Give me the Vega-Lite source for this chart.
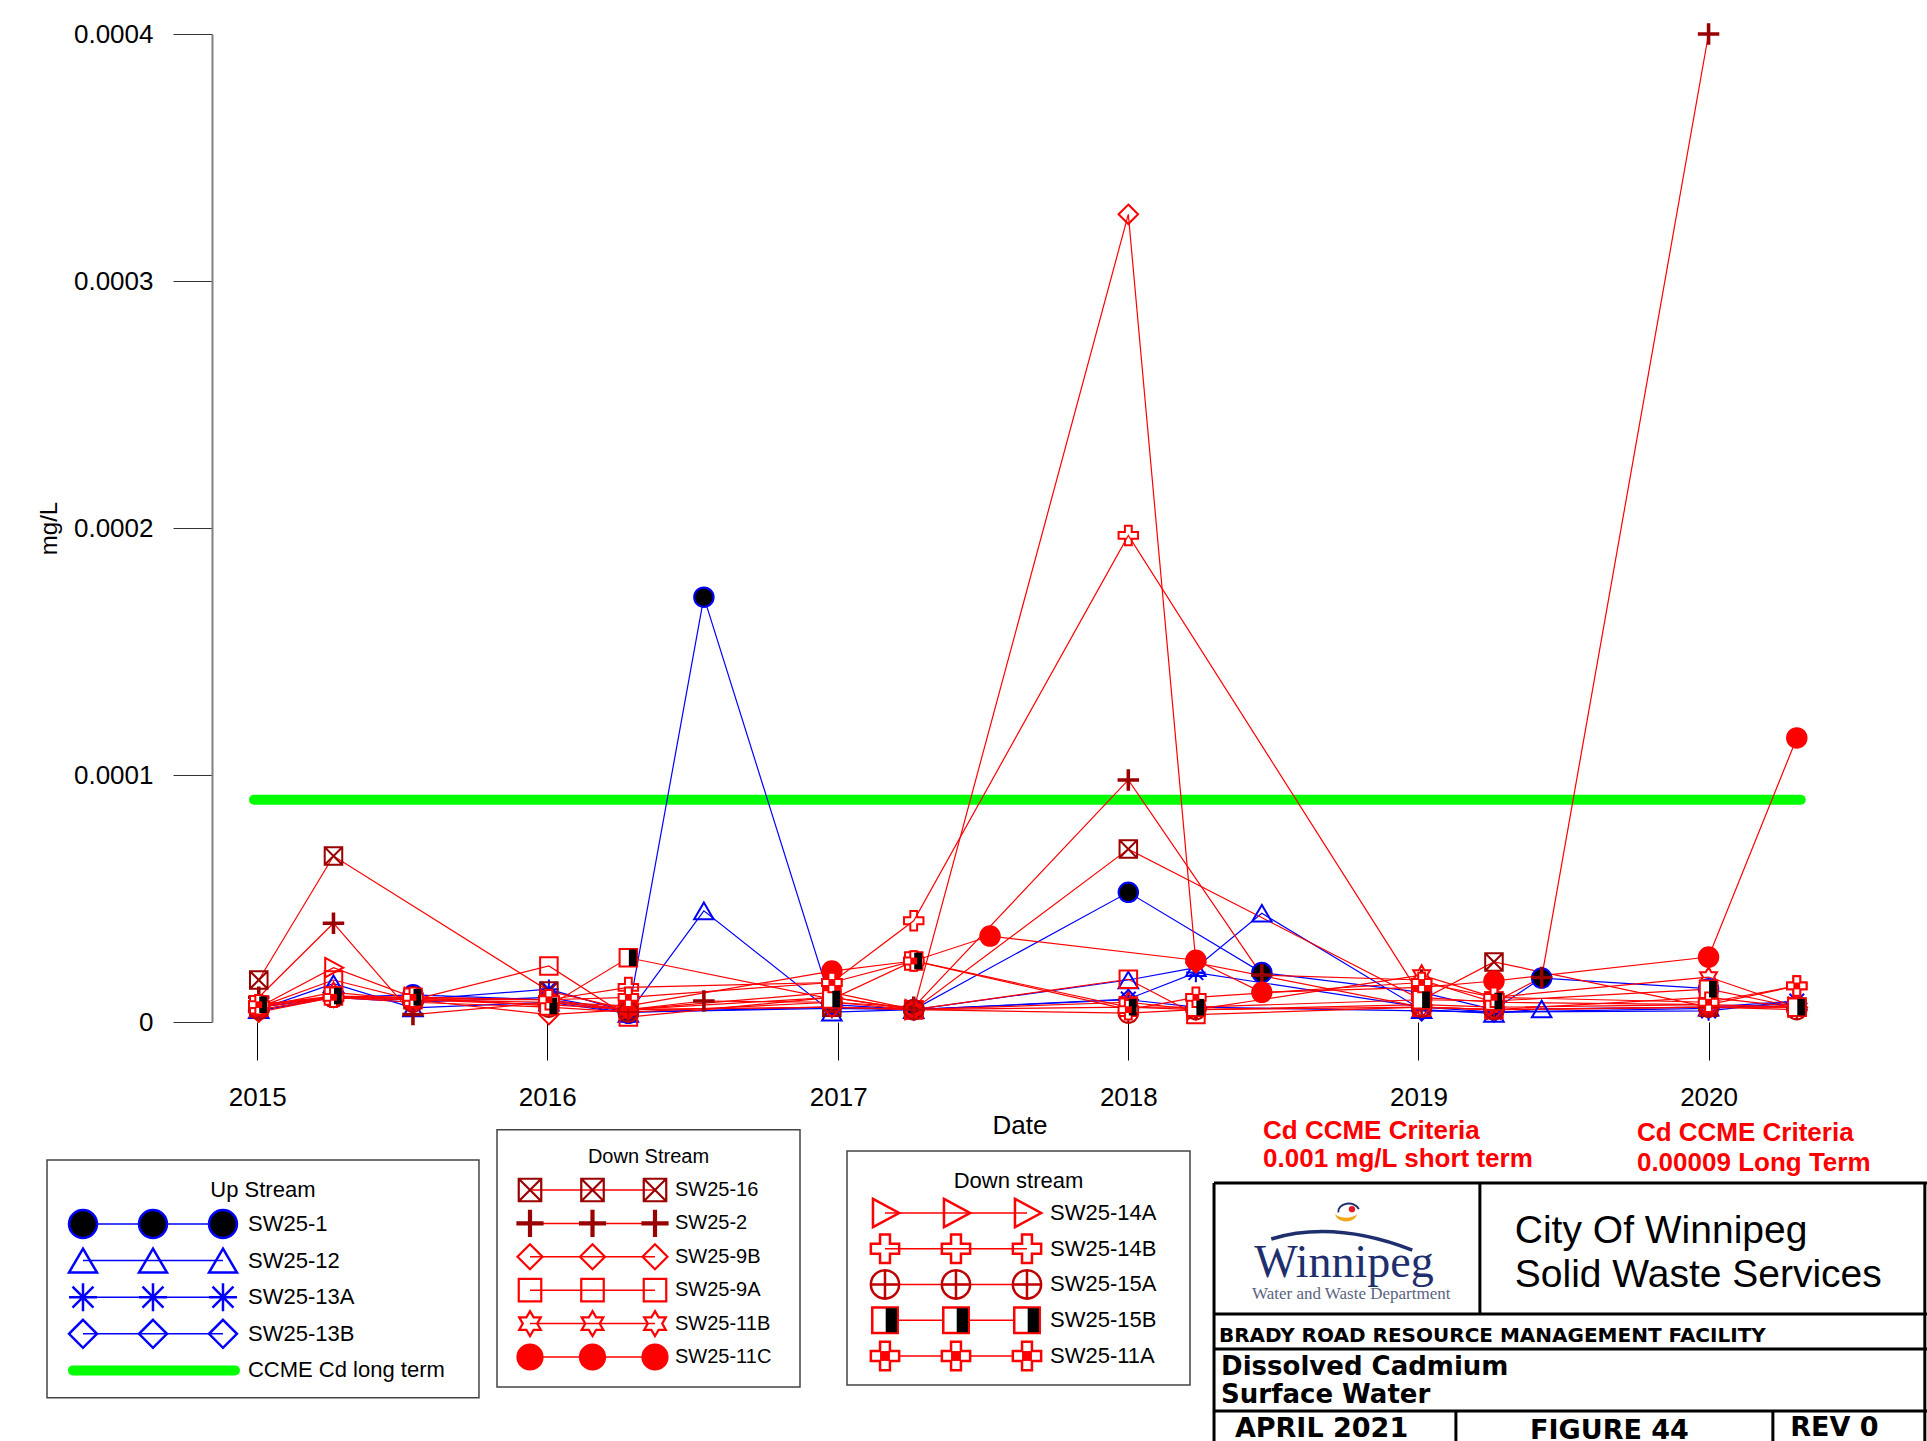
{
"$schema":"https://vega.github.io/schema/vega-lite/v6.json",
"background":"white",
"padding":{"left":37,"top":20,"right":0,"bottom":0},
"config":{"font":"Liberation Sans","view":{"stroke":null},"text":{"font":"Liberation Sans"},"axis":{"labelFont":"Liberation Sans","titleFont":"Liberation Sans"}},
"datasets":{
"ccme":[{"date":"2014-12-28","value":0.00009},{"date":"2020-04-26","value":0.00009}],
"legendUp":[{"site":"SW25-1","order":1},{"site":"SW25-12","order":2},{"site":"SW25-13A","order":3},{"site":"SW25-13B","order":4}],
"legendDownA":[{"site":"SW25-16","order":1},{"site":"SW25-2","order":2},{"site":"SW25-9B","order":3},{"site":"SW25-9A","order":4},{"site":"SW25-11B","order":5},{"site":"SW25-11C","order":6}],
"legendDownB":[{"site":"SW25-14A","order":1},{"site":"SW25-14B","order":2},{"site":"SW25-15A","order":3},{"site":"SW25-15B","order":4},{"site":"SW25-11A","order":5}],
"cadmium":[
{"site":"SW25-1","date":"2015-01-03","value":0.000006},{"site":"SW25-1","date":"2015-04-07","value":0.00001},{"site":"SW25-1","date":"2015-07-16","value":0.000011},{"site":"SW25-1","date":"2016-01-03","value":0.000009},{"site":"SW25-1","date":"2016-04-12","value":0.0000035},{"site":"SW25-1","date":"2016-07-16","value":0.000172},{"site":"SW25-1","date":"2016-12-24","value":0.000007},{"site":"SW25-1","date":"2017-04-06","value":0.000005},{"site":"SW25-1","date":"2018-01-01","value":0.0000525},{"site":"SW25-1","date":"2018-06-18","value":0.00002},{"site":"SW25-1","date":"2019-01-05","value":0.000012},{"site":"SW25-1","date":"2019-04-06","value":0.000005},{"site":"SW25-1","date":"2019-06-05","value":0.0000178},{"site":"SW25-1","date":"2020-01-01","value":0.0000135},
{"site":"SW25-12","date":"2015-01-03","value":0.000005},{"site":"SW25-12","date":"2015-04-07","value":0.0000155},{"site":"SW25-12","date":"2015-07-16","value":0.0000057},{"site":"SW25-12","date":"2016-01-03","value":0.000008},{"site":"SW25-12","date":"2016-04-12","value":0.0000035},{"site":"SW25-12","date":"2016-07-16","value":0.000045},{"site":"SW25-12","date":"2016-12-24","value":0.000004},{"site":"SW25-12","date":"2017-04-06","value":0.000005},{"site":"SW25-12","date":"2018-01-01","value":0.000017},{"site":"SW25-12","date":"2018-03-27","value":0.000022},{"site":"SW25-12","date":"2018-06-18","value":0.000044},{"site":"SW25-12","date":"2019-01-05","value":0.000005},{"site":"SW25-12","date":"2019-04-06","value":0.0000035},{"site":"SW25-12","date":"2019-06-05","value":0.0000053},{"site":"SW25-12","date":"2020-01-01","value":0.000006},{"site":"SW25-12","date":"2020-04-21","value":0.0000085},
{"site":"SW25-13A","date":"2015-01-03","value":0.000006},{"site":"SW25-13A","date":"2015-04-07","value":0.00001},{"site":"SW25-13A","date":"2015-07-16","value":0.000009},{"site":"SW25-13A","date":"2016-01-03","value":0.0000133},{"site":"SW25-13A","date":"2016-04-12","value":0.000004},{"site":"SW25-13A","date":"2016-12-24","value":0.0000055},{"site":"SW25-13A","date":"2017-04-06","value":0.000005},{"site":"SW25-13A","date":"2018-01-01","value":0.0000093},{"site":"SW25-13A","date":"2018-03-27","value":0.00002},{"site":"SW25-13A","date":"2019-01-05","value":0.000006},{"site":"SW25-13A","date":"2019-04-06","value":0.000004},{"site":"SW25-13A","date":"2020-01-01","value":0.0000045},{"site":"SW25-13A","date":"2020-04-21","value":0.0000085},
{"site":"SW25-13B","date":"2015-01-03","value":0.0000045},{"site":"SW25-13B","date":"2015-04-07","value":0.00001},{"site":"SW25-13B","date":"2015-07-16","value":0.000008},{"site":"SW25-13B","date":"2016-01-03","value":0.00001},{"site":"SW25-13B","date":"2016-04-12","value":0.000004},{"site":"SW25-13B","date":"2016-12-24","value":0.000006},{"site":"SW25-13B","date":"2017-04-06","value":0.000005},{"site":"SW25-13B","date":"2018-01-01","value":0.000009},{"site":"SW25-13B","date":"2018-03-27","value":0.000006},{"site":"SW25-13B","date":"2019-01-05","value":0.0000045},{"site":"SW25-13B","date":"2019-04-06","value":0.000004},{"site":"SW25-13B","date":"2020-01-01","value":0.0000055},{"site":"SW25-13B","date":"2020-04-21","value":0.0000075},
{"site":"SW25-16","date":"2015-01-03","value":0.000017},{"site":"SW25-16","date":"2015-04-07","value":0.0000672},{"site":"SW25-16","date":"2016-01-03","value":0.0000125},{"site":"SW25-16","date":"2016-04-12","value":0.000005},{"site":"SW25-16","date":"2016-12-24","value":0.000006},{"site":"SW25-16","date":"2017-04-06","value":0.000005},{"site":"SW25-16","date":"2018-01-01","value":0.00007},{"site":"SW25-16","date":"2019-01-05","value":0.000009},{"site":"SW25-16","date":"2019-04-06","value":0.0000243},{"site":"SW25-16","date":"2020-01-01","value":0.000006},{"site":"SW25-16","date":"2020-04-21","value":0.000006},
{"site":"SW25-2","date":"2015-01-03","value":0.00001},{"site":"SW25-2","date":"2015-04-07","value":0.00004},{"site":"SW25-2","date":"2015-07-16","value":0.000003},{"site":"SW25-2","date":"2016-01-03","value":0.000008},{"site":"SW25-2","date":"2016-04-12","value":0.000005},{"site":"SW25-2","date":"2016-07-16","value":0.0000085},{"site":"SW25-2","date":"2016-12-24","value":0.000008},{"site":"SW25-2","date":"2017-04-06","value":0.000006},{"site":"SW25-2","date":"2018-01-01","value":0.000098},{"site":"SW25-2","date":"2018-06-18","value":0.000019},{"site":"SW25-2","date":"2019-01-05","value":0.000017},{"site":"SW25-2","date":"2019-04-06","value":0.000008},{"site":"SW25-2","date":"2019-06-05","value":0.000018},{"site":"SW25-2","date":"2020-01-01","value":0.0004},
{"site":"SW25-9B","date":"2015-01-03","value":0.000004},{"site":"SW25-9B","date":"2015-04-07","value":0.00001},{"site":"SW25-9B","date":"2015-07-16","value":0.000009},{"site":"SW25-9B","date":"2016-01-03","value":0.000003},{"site":"SW25-9B","date":"2016-04-12","value":0.000005},{"site":"SW25-9B","date":"2016-12-24","value":0.000006},{"site":"SW25-9B","date":"2017-04-06","value":0.000005},{"site":"SW25-9B","date":"2018-01-01","value":0.000327},{"site":"SW25-9B","date":"2018-03-27","value":0.000024},{"site":"SW25-9B","date":"2019-01-05","value":0.000006},{"site":"SW25-9B","date":"2019-04-06","value":0.000005},{"site":"SW25-9B","date":"2020-01-01","value":0.000006},{"site":"SW25-9B","date":"2020-04-21","value":0.000006},
{"site":"SW25-9A","date":"2015-01-03","value":0.000006},{"site":"SW25-9A","date":"2015-04-07","value":0.000017},{"site":"SW25-9A","date":"2015-07-16","value":0.000009},{"site":"SW25-9A","date":"2016-01-03","value":0.0000227},{"site":"SW25-9A","date":"2016-04-12","value":0.000002},{"site":"SW25-9A","date":"2016-12-24","value":0.00001},{"site":"SW25-9A","date":"2017-04-06","value":0.000005},{"site":"SW25-9A","date":"2018-01-01","value":0.0000173},{"site":"SW25-9A","date":"2018-03-27","value":0.000003},{"site":"SW25-9A","date":"2019-01-05","value":0.000006},{"site":"SW25-9A","date":"2019-04-06","value":0.000005},{"site":"SW25-9A","date":"2020-01-01","value":0.00001},{"site":"SW25-9A","date":"2020-04-21","value":0.000006},
{"site":"SW25-11B","date":"2015-01-03","value":0.000006},{"site":"SW25-11B","date":"2015-04-07","value":0.000012},{"site":"SW25-11B","date":"2015-07-16","value":0.000009},{"site":"SW25-11B","date":"2016-01-03","value":0.000007},{"site":"SW25-11B","date":"2016-04-12","value":0.000005},{"site":"SW25-11B","date":"2016-12-24","value":0.000012},{"site":"SW25-11B","date":"2017-04-06","value":0.000005},{"site":"SW25-11B","date":"2018-01-01","value":0.000008},{"site":"SW25-11B","date":"2018-03-27","value":0.000005},{"site":"SW25-11B","date":"2019-01-05","value":0.000019},{"site":"SW25-11B","date":"2019-04-06","value":0.00001},{"site":"SW25-11B","date":"2020-01-01","value":0.0000182},{"site":"SW25-11B","date":"2020-04-21","value":0.000006},
{"site":"SW25-11C","date":"2015-01-03","value":0.000006},{"site":"SW25-11C","date":"2015-04-07","value":0.00001},{"site":"SW25-11C","date":"2015-07-16","value":0.000009},{"site":"SW25-11C","date":"2016-01-03","value":0.000008},{"site":"SW25-11C","date":"2016-04-12","value":0.0000065},{"site":"SW25-11C","date":"2016-12-24","value":0.0000206},{"site":"SW25-11C","date":"2017-04-06","value":0.0000247},{"site":"SW25-11C","date":"2017-07-11","value":0.0000348},{"site":"SW25-11C","date":"2018-03-27","value":0.000025},{"site":"SW25-11C","date":"2018-06-18","value":0.000012},{"site":"SW25-11C","date":"2019-01-05","value":0.000014},{"site":"SW25-11C","date":"2019-04-06","value":0.0000166},{"site":"SW25-11C","date":"2020-01-01","value":0.0000263},{"site":"SW25-11C","date":"2020-04-21","value":0.000115},
{"site":"SW25-14A","date":"2015-01-03","value":0.000006},{"site":"SW25-14A","date":"2015-04-07","value":0.000022},{"site":"SW25-14A","date":"2015-07-16","value":0.00001},{"site":"SW25-14A","date":"2016-01-03","value":0.000009},{"site":"SW25-14A","date":"2016-04-12","value":0.000005},{"site":"SW25-14A","date":"2016-12-24","value":0.00001},{"site":"SW25-14A","date":"2017-04-06","value":0.000005},{"site":"SW25-14A","date":"2018-01-01","value":0.000006},{"site":"SW25-14A","date":"2018-03-27","value":0.000005},{"site":"SW25-14A","date":"2019-01-05","value":0.000007},{"site":"SW25-14A","date":"2019-04-06","value":0.000006},{"site":"SW25-14A","date":"2020-01-01","value":0.000007},{"site":"SW25-14A","date":"2020-04-21","value":0.000006},
{"site":"SW25-14B","date":"2015-01-03","value":0.000007},{"site":"SW25-14B","date":"2015-04-07","value":0.00001},{"site":"SW25-14B","date":"2015-07-16","value":0.000009},{"site":"SW25-14B","date":"2016-01-03","value":0.000009},{"site":"SW25-14B","date":"2016-04-12","value":0.000014},{"site":"SW25-14B","date":"2016-12-24","value":0.000016},{"site":"SW25-14B","date":"2017-04-06","value":0.000041},{"site":"SW25-14B","date":"2018-01-01","value":0.000197},{"site":"SW25-14B","date":"2019-01-05","value":0.00001},{"site":"SW25-14B","date":"2019-04-06","value":0.000008},{"site":"SW25-14B","date":"2020-01-01","value":0.000007},{"site":"SW25-14B","date":"2020-04-21","value":0.0000146},
{"site":"SW25-15A","date":"2015-01-03","value":0.000005},{"site":"SW25-15A","date":"2015-04-07","value":0.00001},{"site":"SW25-15A","date":"2015-07-16","value":0.000008},{"site":"SW25-15A","date":"2016-01-03","value":0.000006},{"site":"SW25-15A","date":"2016-04-12","value":0.000004},{"site":"SW25-15A","date":"2016-12-24","value":0.000008},{"site":"SW25-15A","date":"2017-04-06","value":0.000005},{"site":"SW25-15A","date":"2018-01-01","value":0.0000036},{"site":"SW25-15A","date":"2018-03-27","value":0.000005},{"site":"SW25-15A","date":"2019-01-05","value":0.000006},{"site":"SW25-15A","date":"2019-04-06","value":0.000005},{"site":"SW25-15A","date":"2020-01-01","value":0.000006},{"site":"SW25-15A","date":"2020-04-21","value":0.000005},
{"site":"SW25-15B","date":"2015-01-03","value":0.000007},{"site":"SW25-15B","date":"2015-04-07","value":0.0000105},{"site":"SW25-15B","date":"2015-07-16","value":0.00001},{"site":"SW25-15B","date":"2016-01-03","value":0.0000065},{"site":"SW25-15B","date":"2016-04-12","value":0.000026},{"site":"SW25-15B","date":"2016-12-24","value":0.0000093},{"site":"SW25-15B","date":"2017-04-06","value":0.0000247},{"site":"SW25-15B","date":"2018-01-01","value":0.000006},{"site":"SW25-15B","date":"2018-03-27","value":0.000006},{"site":"SW25-15B","date":"2019-01-05","value":0.000009},{"site":"SW25-15B","date":"2019-04-06","value":0.0000085},{"site":"SW25-15B","date":"2020-01-01","value":0.0000133},{"site":"SW25-15B","date":"2020-04-21","value":0.000006},
{"site":"SW25-11A","date":"2015-01-03","value":0.000007},{"site":"SW25-11A","date":"2015-04-07","value":0.00001},{"site":"SW25-11A","date":"2015-07-16","value":0.00001},{"site":"SW25-11A","date":"2016-01-03","value":0.000009},{"site":"SW25-11A","date":"2016-04-12","value":0.00001},{"site":"SW25-11A","date":"2016-12-24","value":0.000016},{"site":"SW25-11A","date":"2017-04-06","value":0.0000247},{"site":"SW25-11A","date":"2018-01-01","value":0.000005},{"site":"SW25-11A","date":"2018-03-27","value":0.00001},{"site":"SW25-11A","date":"2019-01-05","value":0.000016},{"site":"SW25-11A","date":"2019-04-06","value":0.00001},{"site":"SW25-11A","date":"2020-01-01","value":0.000008},{"site":"SW25-11A","date":"2020-04-21","value":0.0000146}
]},
"columns":1,
"align":"none",
"spacing":0,
"concat":[
{
"width":1790,"height":988,
"encoding":{
"x":{"field":"date","type":"temporal","title":null,"scale":{"type":"utc","domain":[{"year":2014,"month":3,"date":30,"utc":true},{"year":2020,"month":5,"date":29,"utc":true}],"nice":false},
"axis":{"values":[{"year":2015,"month":1,"date":1,"utc":true},{"year":2016,"month":1,"date":1,"utc":true},{"year":2017,"month":1,"date":1,"utc":true},{"year":2018,"month":1,"date":1,"utc":true},{"year":2019,"month":1,"date":1,"utc":true},{"year":2020,"month":1,"date":1,"utc":true}],"labelExpr":"utcFormat(datum.value,'%Y')","grid":false,"domain":false,"tickColor":"#000000","tickWidth":1,"tickSize":38,"labelPadding":24,"labelFontSize":26,"labelColor":"#000000","labelFlush":false,"labelOverlap":false}},
"y":{"field":"value","type":"quantitative","title":"mg/L","scale":{"domain":[0,0.0004],"nice":false,"zero":false},
"axis":{"offset":-175,"values":[0,0.0001,0.0002,0.0003,0.0004],"format":"~g","grid":false,"domainColor":"#808080","domainWidth":2,"tickColor":"#333333","tickWidth":1,"tickSize":39,"labelPadding":20,"labelFontSize":26,"labelColor":"#000000","titleFontSize":24,"titleFontWeight":"normal","titleColor":"#000000","titlePadding":12,"labelFlush":false}}
},
"layer":[
{"data":{"values":[{}]},"mark":{"type":"rule","color":"#808080","strokeWidth":2},"encoding":{"x":{"datum":{"year":2014,"month":11,"date":5,"utc":true},"type":"temporal"},"x2":{"datum":{"year":2020,"month":5,"date":29,"utc":true}},"y":{"datum":0,"type":"quantitative"}}},
{"data":{"name":"ccme"},"mark":{"type":"line","color":"#00ff00","strokeWidth":10,"strokeCap":"round"}},
{"data":{"name":"cadmium"},"mark":{"type":"line","strokeWidth":1.2},"encoding":{"color":{"field":"site","type":"nominal","legend":null,"scale":{"domain":["SW25-1","SW25-12","SW25-13A","SW25-13B","SW25-16","SW25-2","SW25-9B","SW25-9A","SW25-11B","SW25-11C","SW25-14A","SW25-14B","SW25-15A","SW25-15B","SW25-11A"],"range":["#0000ff","#0000ff","#0000ff","#0000ff","#ff0000","#ff0000","#ff0000","#ff0000","#ff0000","#ff0000","#ff0000","#ff0000","#ff0000","#ff0000","#ff0000"]}}}},
{"data":{"name":"cadmium"},"mark":{"type":"point","size":380,"strokeWidth":2,"opacity":1},"encoding":{
"shape":{"field":"site","type":"nominal","legend":null,"scale":{"domain":["SW25-1","SW25-12","SW25-13A","SW25-13B","SW25-16","SW25-2","SW25-9B","SW25-9A","SW25-11B","SW25-11C","SW25-14A","SW25-14B","SW25-15A","SW25-15B","SW25-11A"],"range":["circle","M0,-0.85L1,0.85L-1,0.85Z","M-1,0H1M0,-1V1M-0.75,-0.75L0.75,0.75M-0.75,0.75L0.75,-0.75","M0,-1L1,0L0,1L-1,0Z","M-0.9,-0.9H0.9V0.9H-0.9ZM-0.9,-0.9L0.9,0.9M-0.9,0.9L0.9,-0.9","M-1,-0.08H-0.08V-1H0.08V-0.08H1V0.08H0.08V1H-0.08V0.08H-1Z","M0,-1L1,0L0,1L-1,0Z","M-0.9,-0.9H0.9V0.9H-0.9Z","M0,-1L0.289,-0.5L0.866,-0.5L0.577,0L0.866,0.5L0.289,0.5L0,1L-0.289,0.5L-0.866,0.5L-0.577,0L-0.866,-0.5L-0.289,-0.5Z","circle","M-0.85,-1L1,0L-0.85,1Z","M-0.35,-1H0.35V-0.35H1V0.35H0.35V1H-0.35V0.35H-1V-0.35H-0.35Z","M-1,0A1,1,0,1,1,1,0A1,1,0,1,1,-1,0ZM-1,0H1M0,-1V1","M-0.9,-0.9H0.9V0.9H-0.9Z","M-0.35,-1H0.35V-0.35H1V0.35H0.35V1H-0.35V0.35H-1V-0.35H-0.35Z"]}},
"stroke":{"field":"site","type":"nominal","legend":null,"scale":{"domain":["SW25-1","SW25-12","SW25-13A","SW25-13B","SW25-16","SW25-2","SW25-9B","SW25-9A","SW25-11B","SW25-11C","SW25-14A","SW25-14B","SW25-15A","SW25-15B","SW25-11A"],"range":["#0000ff","#0000ff","#0000ff","#0000ff","#990000","#990000","#ff0000","#ff0000","#ff0000","#ff0000","#ff0000","#ff0000","#c00000","#ff0000","#ff0000"]}},
"fill":{"field":"site","type":"nominal","legend":null,"scale":{"domain":["SW25-1","SW25-12","SW25-13A","SW25-13B","SW25-16","SW25-2","SW25-9B","SW25-9A","SW25-11B","SW25-11C","SW25-14A","SW25-14B","SW25-15A","SW25-15B","SW25-11A"],"range":["#000000","transparent","transparent","transparent","transparent","#990000","transparent","transparent","transparent","#ff0000","transparent","transparent","transparent","#ffffff","#ffffff"]}}}},
{"data":{"name":"cadmium"},"transform":[{"filter":"datum.site === 'SW25-15B'"}],"mark":{"type":"point","shape":"M0.05,-0.85H0.85V0.85H0.05Z","size":380,"filled":true,"color":"#000000","opacity":1}},
{"data":{"name":"cadmium"},"transform":[{"filter":"datum.site === 'SW25-11A'"}],"mark":{"type":"point","shape":"M-0.35,-0.35H0.35V0.35H-0.35Z","size":380,"filled":true,"color":"#ff0000","opacity":1}}
]
},
{"spacing":0,"hconcat":[
{
"width":451,"height":332,
"layer":[
{"data":{"values":[{}]},"mark":{"type":"rect","fill":"#ffffff","stroke":"#444444","strokeWidth":1.5},"encoding":{"x":{"datum":0.486,"type":"quantitative","scale":{"domain":[0.343,6.786],"nice":false,"zero":false},"axis":null},"x2":{"datum":6.657},"y":{"datum":-0.75,"type":"quantitative","scale":{"domain":[-2.115,6.956],"nice":false,"zero":false,"reverse":true},"axis":null},"y2":{"datum":5.75}}},
{"data":{"values":[{}]},"mark":{"type":"text","fontSize":22,"align":"center","baseline":"middle","color":"#000000"},"encoding":{"x":{"datum":3.57,"type":"quantitative","scale":{"domain":[0.343,6.786],"nice":false,"zero":false},"axis":null},"y":{"datum":0.08,"type":"quantitative","scale":{"domain":[-2.115,6.956],"nice":false,"zero":false,"reverse":true},"axis":null},"text":{"value":"Up Stream"}}},
{"data":{"name":"legendUp"},"mark":{"type":"rule","strokeWidth":1.5},"encoding":{"x":{"datum":1,"type":"quantitative","scale":{"domain":[0.343,6.786],"nice":false,"zero":false},"axis":null},"x2":{"datum":3},"y":{"field":"order","type":"quantitative","scale":{"domain":[-2.115,6.956],"nice":false,"zero":false,"reverse":true},"axis":null},"color":{"field":"site","type":"nominal","legend":null,"scale":{"domain":["SW25-1","SW25-12","SW25-13A","SW25-13B","SW25-16","SW25-2","SW25-9B","SW25-9A","SW25-11B","SW25-11C","SW25-14A","SW25-14B","SW25-15A","SW25-15B","SW25-11A"],"range":["#0000ff","#0000ff","#0000ff","#0000ff","#ff0000","#ff0000","#ff0000","#ff0000","#ff0000","#ff0000","#ff0000","#ff0000","#ff0000","#ff0000","#ff0000"]}}}},
{"data":{"name":"legendUp"},"mark":{"type":"point","size":780,"strokeWidth":2.5,"opacity":1},"encoding":{"x":{"datum":1,"type":"quantitative","scale":{"domain":[0.343,6.786],"nice":false,"zero":false},"axis":null},"y":{"field":"order","type":"quantitative","scale":{"domain":[-2.115,6.956],"nice":false,"zero":false,"reverse":true},"axis":null},
"shape":{"field":"site","type":"nominal","legend":null,"scale":{"domain":["SW25-1","SW25-12","SW25-13A","SW25-13B","SW25-16","SW25-2","SW25-9B","SW25-9A","SW25-11B","SW25-11C","SW25-14A","SW25-14B","SW25-15A","SW25-15B","SW25-11A"],"range":["circle","M0,-0.85L1,0.85L-1,0.85Z","M-1,0H1M0,-1V1M-0.75,-0.75L0.75,0.75M-0.75,0.75L0.75,-0.75","M0,-1L1,0L0,1L-1,0Z","M-0.9,-0.9H0.9V0.9H-0.9ZM-0.9,-0.9L0.9,0.9M-0.9,0.9L0.9,-0.9","M-1,-0.08H-0.08V-1H0.08V-0.08H1V0.08H0.08V1H-0.08V0.08H-1Z","M0,-1L1,0L0,1L-1,0Z","M-0.9,-0.9H0.9V0.9H-0.9Z","M0,-1L0.289,-0.5L0.866,-0.5L0.577,0L0.866,0.5L0.289,0.5L0,1L-0.289,0.5L-0.866,0.5L-0.577,0L-0.866,-0.5L-0.289,-0.5Z","circle","M-0.85,-1L1,0L-0.85,1Z","M-0.35,-1H0.35V-0.35H1V0.35H0.35V1H-0.35V0.35H-1V-0.35H-0.35Z","M-1,0A1,1,0,1,1,1,0A1,1,0,1,1,-1,0ZM-1,0H1M0,-1V1","M-0.9,-0.9H0.9V0.9H-0.9Z","M-0.35,-1H0.35V-0.35H1V0.35H0.35V1H-0.35V0.35H-1V-0.35H-0.35Z"]}},
"stroke":{"field":"site","type":"nominal","legend":null,"scale":{"domain":["SW25-1","SW25-12","SW25-13A","SW25-13B","SW25-16","SW25-2","SW25-9B","SW25-9A","SW25-11B","SW25-11C","SW25-14A","SW25-14B","SW25-15A","SW25-15B","SW25-11A"],"range":["#0000ff","#0000ff","#0000ff","#0000ff","#990000","#990000","#ff0000","#ff0000","#ff0000","#ff0000","#ff0000","#ff0000","#c00000","#ff0000","#ff0000"]}},
"fill":{"field":"site","type":"nominal","legend":null,"scale":{"domain":["SW25-1","SW25-12","SW25-13A","SW25-13B","SW25-16","SW25-2","SW25-9B","SW25-9A","SW25-11B","SW25-11C","SW25-14A","SW25-14B","SW25-15A","SW25-15B","SW25-11A"],"range":["#000000","transparent","transparent","transparent","transparent","#990000","transparent","transparent","transparent","#ff0000","transparent","transparent","transparent","#ffffff","#ffffff"]}}}},
{"data":{"name":"legendUp"},"mark":{"type":"point","size":780,"strokeWidth":2.5,"opacity":1},"encoding":{"x":{"datum":2,"type":"quantitative","scale":{"domain":[0.343,6.786],"nice":false,"zero":false},"axis":null},"y":{"field":"order","type":"quantitative","scale":{"domain":[-2.115,6.956],"nice":false,"zero":false,"reverse":true},"axis":null},
"shape":{"field":"site","type":"nominal","legend":null,"scale":{"domain":["SW25-1","SW25-12","SW25-13A","SW25-13B","SW25-16","SW25-2","SW25-9B","SW25-9A","SW25-11B","SW25-11C","SW25-14A","SW25-14B","SW25-15A","SW25-15B","SW25-11A"],"range":["circle","M0,-0.85L1,0.85L-1,0.85Z","M-1,0H1M0,-1V1M-0.75,-0.75L0.75,0.75M-0.75,0.75L0.75,-0.75","M0,-1L1,0L0,1L-1,0Z","M-0.9,-0.9H0.9V0.9H-0.9ZM-0.9,-0.9L0.9,0.9M-0.9,0.9L0.9,-0.9","M-1,-0.08H-0.08V-1H0.08V-0.08H1V0.08H0.08V1H-0.08V0.08H-1Z","M0,-1L1,0L0,1L-1,0Z","M-0.9,-0.9H0.9V0.9H-0.9Z","M0,-1L0.289,-0.5L0.866,-0.5L0.577,0L0.866,0.5L0.289,0.5L0,1L-0.289,0.5L-0.866,0.5L-0.577,0L-0.866,-0.5L-0.289,-0.5Z","circle","M-0.85,-1L1,0L-0.85,1Z","M-0.35,-1H0.35V-0.35H1V0.35H0.35V1H-0.35V0.35H-1V-0.35H-0.35Z","M-1,0A1,1,0,1,1,1,0A1,1,0,1,1,-1,0ZM-1,0H1M0,-1V1","M-0.9,-0.9H0.9V0.9H-0.9Z","M-0.35,-1H0.35V-0.35H1V0.35H0.35V1H-0.35V0.35H-1V-0.35H-0.35Z"]}},
"stroke":{"field":"site","type":"nominal","legend":null,"scale":{"domain":["SW25-1","SW25-12","SW25-13A","SW25-13B","SW25-16","SW25-2","SW25-9B","SW25-9A","SW25-11B","SW25-11C","SW25-14A","SW25-14B","SW25-15A","SW25-15B","SW25-11A"],"range":["#0000ff","#0000ff","#0000ff","#0000ff","#990000","#990000","#ff0000","#ff0000","#ff0000","#ff0000","#ff0000","#ff0000","#c00000","#ff0000","#ff0000"]}},
"fill":{"field":"site","type":"nominal","legend":null,"scale":{"domain":["SW25-1","SW25-12","SW25-13A","SW25-13B","SW25-16","SW25-2","SW25-9B","SW25-9A","SW25-11B","SW25-11C","SW25-14A","SW25-14B","SW25-15A","SW25-15B","SW25-11A"],"range":["#000000","transparent","transparent","transparent","transparent","#990000","transparent","transparent","transparent","#ff0000","transparent","transparent","transparent","#ffffff","#ffffff"]}}}},
{"data":{"name":"legendUp"},"mark":{"type":"point","size":780,"strokeWidth":2.5,"opacity":1},"encoding":{"x":{"datum":3,"type":"quantitative","scale":{"domain":[0.343,6.786],"nice":false,"zero":false},"axis":null},"y":{"field":"order","type":"quantitative","scale":{"domain":[-2.115,6.956],"nice":false,"zero":false,"reverse":true},"axis":null},
"shape":{"field":"site","type":"nominal","legend":null,"scale":{"domain":["SW25-1","SW25-12","SW25-13A","SW25-13B","SW25-16","SW25-2","SW25-9B","SW25-9A","SW25-11B","SW25-11C","SW25-14A","SW25-14B","SW25-15A","SW25-15B","SW25-11A"],"range":["circle","M0,-0.85L1,0.85L-1,0.85Z","M-1,0H1M0,-1V1M-0.75,-0.75L0.75,0.75M-0.75,0.75L0.75,-0.75","M0,-1L1,0L0,1L-1,0Z","M-0.9,-0.9H0.9V0.9H-0.9ZM-0.9,-0.9L0.9,0.9M-0.9,0.9L0.9,-0.9","M-1,-0.08H-0.08V-1H0.08V-0.08H1V0.08H0.08V1H-0.08V0.08H-1Z","M0,-1L1,0L0,1L-1,0Z","M-0.9,-0.9H0.9V0.9H-0.9Z","M0,-1L0.289,-0.5L0.866,-0.5L0.577,0L0.866,0.5L0.289,0.5L0,1L-0.289,0.5L-0.866,0.5L-0.577,0L-0.866,-0.5L-0.289,-0.5Z","circle","M-0.85,-1L1,0L-0.85,1Z","M-0.35,-1H0.35V-0.35H1V0.35H0.35V1H-0.35V0.35H-1V-0.35H-0.35Z","M-1,0A1,1,0,1,1,1,0A1,1,0,1,1,-1,0ZM-1,0H1M0,-1V1","M-0.9,-0.9H0.9V0.9H-0.9Z","M-0.35,-1H0.35V-0.35H1V0.35H0.35V1H-0.35V0.35H-1V-0.35H-0.35Z"]}},
"stroke":{"field":"site","type":"nominal","legend":null,"scale":{"domain":["SW25-1","SW25-12","SW25-13A","SW25-13B","SW25-16","SW25-2","SW25-9B","SW25-9A","SW25-11B","SW25-11C","SW25-14A","SW25-14B","SW25-15A","SW25-15B","SW25-11A"],"range":["#0000ff","#0000ff","#0000ff","#0000ff","#990000","#990000","#ff0000","#ff0000","#ff0000","#ff0000","#ff0000","#ff0000","#c00000","#ff0000","#ff0000"]}},
"fill":{"field":"site","type":"nominal","legend":null,"scale":{"domain":["SW25-1","SW25-12","SW25-13A","SW25-13B","SW25-16","SW25-2","SW25-9B","SW25-9A","SW25-11B","SW25-11C","SW25-14A","SW25-14B","SW25-15A","SW25-15B","SW25-11A"],"range":["#000000","transparent","transparent","transparent","transparent","#990000","transparent","transparent","transparent","#ff0000","transparent","transparent","transparent","#ffffff","#ffffff"]}}}},
{"data":{"name":"legendUp"},"mark":{"type":"text","fontSize":22,"align":"left","baseline":"middle","color":"#000000"},"encoding":{"x":{"datum":3.357,"type":"quantitative","scale":{"domain":[0.343,6.786],"nice":false,"zero":false},"axis":null},"y":{"field":"order","type":"quantitative","scale":{"domain":[-2.115,6.956],"nice":false,"zero":false,"reverse":true},"axis":null},"text":{"field":"site"}}},
{"data":{"values":[{}]},"mark":{"type":"rule","color":"#00ff00","strokeWidth":10,"strokeCap":"round"},"encoding":{"x":{"datum":0.857,"type":"quantitative","scale":{"domain":[0.343,6.786],"nice":false,"zero":false},"axis":null},"x2":{"datum":3.171},"y":{"datum":5,"type":"quantitative","scale":{"domain":[-2.115,6.956],"nice":false,"zero":false,"reverse":true},"axis":null}}},
{"data":{"values":[{}]},"mark":{"type":"text","fontSize":22,"align":"left","baseline":"middle","color":"#000000"},"encoding":{"x":{"datum":3.357,"type":"quantitative","scale":{"domain":[0.343,6.786],"nice":false,"zero":false},"axis":null},"y":{"datum":5,"type":"quantitative","scale":{"domain":[-2.115,6.956],"nice":false,"zero":false,"reverse":true},"axis":null},"text":{"value":"CCME Cd long term"}}}
]
},
{
"width":337,"height":332,
"layer":[
{"data":{"values":[{}]},"mark":{"type":"rect","fill":"#ffffff","stroke":"#444444","strokeWidth":1.5},"encoding":{"x":{"datum":0.472,"type":"quantitative","scale":{"domain":[0.328,5.72],"nice":false,"zero":false},"axis":null},"x2":{"datum":5.32},"y":{"datum":-0.8,"type":"quantitative","scale":{"domain":[-1.395,8.545],"nice":false,"zero":false,"reverse":true},"axis":null},"y2":{"datum":6.9}}},
{"data":{"values":[{}]},"mark":{"type":"text","fontSize":20,"align":"center","baseline":"middle","color":"#000000"},"encoding":{"x":{"datum":2.896,"type":"quantitative","scale":{"domain":[0.328,5.72],"nice":false,"zero":false},"axis":null},"y":{"datum":0,"type":"quantitative","scale":{"domain":[-1.395,8.545],"nice":false,"zero":false,"reverse":true},"axis":null},"text":{"value":"Down Stream"}}},
{"data":{"name":"legendDownA"},"mark":{"type":"rule","strokeWidth":1.5},"encoding":{"x":{"datum":1,"type":"quantitative","scale":{"domain":[0.328,5.72],"nice":false,"zero":false},"axis":null},"x2":{"datum":3},"y":{"field":"order","type":"quantitative","scale":{"domain":[-1.395,8.545],"nice":false,"zero":false,"reverse":true},"axis":null},"color":{"field":"site","type":"nominal","legend":null,"scale":{"domain":["SW25-1","SW25-12","SW25-13A","SW25-13B","SW25-16","SW25-2","SW25-9B","SW25-9A","SW25-11B","SW25-11C","SW25-14A","SW25-14B","SW25-15A","SW25-15B","SW25-11A"],"range":["#0000ff","#0000ff","#0000ff","#0000ff","#ff0000","#ff0000","#ff0000","#ff0000","#ff0000","#ff0000","#ff0000","#ff0000","#ff0000","#ff0000","#ff0000"]}}}},
{"data":{"name":"legendDownA"},"mark":{"type":"point","size":625,"strokeWidth":2.2,"opacity":1},"encoding":{"x":{"datum":1,"type":"quantitative","scale":{"domain":[0.328,5.72],"nice":false,"zero":false},"axis":null},"y":{"field":"order","type":"quantitative","scale":{"domain":[-1.395,8.545],"nice":false,"zero":false,"reverse":true},"axis":null},
"shape":{"field":"site","type":"nominal","legend":null,"scale":{"domain":["SW25-1","SW25-12","SW25-13A","SW25-13B","SW25-16","SW25-2","SW25-9B","SW25-9A","SW25-11B","SW25-11C","SW25-14A","SW25-14B","SW25-15A","SW25-15B","SW25-11A"],"range":["circle","M0,-0.85L1,0.85L-1,0.85Z","M-1,0H1M0,-1V1M-0.75,-0.75L0.75,0.75M-0.75,0.75L0.75,-0.75","M0,-1L1,0L0,1L-1,0Z","M-0.9,-0.9H0.9V0.9H-0.9ZM-0.9,-0.9L0.9,0.9M-0.9,0.9L0.9,-0.9","M-1,-0.08H-0.08V-1H0.08V-0.08H1V0.08H0.08V1H-0.08V0.08H-1Z","M0,-1L1,0L0,1L-1,0Z","M-0.9,-0.9H0.9V0.9H-0.9Z","M0,-1L0.289,-0.5L0.866,-0.5L0.577,0L0.866,0.5L0.289,0.5L0,1L-0.289,0.5L-0.866,0.5L-0.577,0L-0.866,-0.5L-0.289,-0.5Z","circle","M-0.85,-1L1,0L-0.85,1Z","M-0.35,-1H0.35V-0.35H1V0.35H0.35V1H-0.35V0.35H-1V-0.35H-0.35Z","M-1,0A1,1,0,1,1,1,0A1,1,0,1,1,-1,0ZM-1,0H1M0,-1V1","M-0.9,-0.9H0.9V0.9H-0.9Z","M-0.35,-1H0.35V-0.35H1V0.35H0.35V1H-0.35V0.35H-1V-0.35H-0.35Z"]}},
"stroke":{"field":"site","type":"nominal","legend":null,"scale":{"domain":["SW25-1","SW25-12","SW25-13A","SW25-13B","SW25-16","SW25-2","SW25-9B","SW25-9A","SW25-11B","SW25-11C","SW25-14A","SW25-14B","SW25-15A","SW25-15B","SW25-11A"],"range":["#0000ff","#0000ff","#0000ff","#0000ff","#990000","#990000","#ff0000","#ff0000","#ff0000","#ff0000","#ff0000","#ff0000","#c00000","#ff0000","#ff0000"]}},
"fill":{"field":"site","type":"nominal","legend":null,"scale":{"domain":["SW25-1","SW25-12","SW25-13A","SW25-13B","SW25-16","SW25-2","SW25-9B","SW25-9A","SW25-11B","SW25-11C","SW25-14A","SW25-14B","SW25-15A","SW25-15B","SW25-11A"],"range":["#000000","transparent","transparent","transparent","transparent","#990000","transparent","transparent","transparent","#ff0000","transparent","transparent","transparent","#ffffff","#ffffff"]}}}},
{"data":{"name":"legendDownA"},"mark":{"type":"point","size":625,"strokeWidth":2.2,"opacity":1},"encoding":{"x":{"datum":2,"type":"quantitative","scale":{"domain":[0.328,5.72],"nice":false,"zero":false},"axis":null},"y":{"field":"order","type":"quantitative","scale":{"domain":[-1.395,8.545],"nice":false,"zero":false,"reverse":true},"axis":null},
"shape":{"field":"site","type":"nominal","legend":null,"scale":{"domain":["SW25-1","SW25-12","SW25-13A","SW25-13B","SW25-16","SW25-2","SW25-9B","SW25-9A","SW25-11B","SW25-11C","SW25-14A","SW25-14B","SW25-15A","SW25-15B","SW25-11A"],"range":["circle","M0,-0.85L1,0.85L-1,0.85Z","M-1,0H1M0,-1V1M-0.75,-0.75L0.75,0.75M-0.75,0.75L0.75,-0.75","M0,-1L1,0L0,1L-1,0Z","M-0.9,-0.9H0.9V0.9H-0.9ZM-0.9,-0.9L0.9,0.9M-0.9,0.9L0.9,-0.9","M-1,-0.08H-0.08V-1H0.08V-0.08H1V0.08H0.08V1H-0.08V0.08H-1Z","M0,-1L1,0L0,1L-1,0Z","M-0.9,-0.9H0.9V0.9H-0.9Z","M0,-1L0.289,-0.5L0.866,-0.5L0.577,0L0.866,0.5L0.289,0.5L0,1L-0.289,0.5L-0.866,0.5L-0.577,0L-0.866,-0.5L-0.289,-0.5Z","circle","M-0.85,-1L1,0L-0.85,1Z","M-0.35,-1H0.35V-0.35H1V0.35H0.35V1H-0.35V0.35H-1V-0.35H-0.35Z","M-1,0A1,1,0,1,1,1,0A1,1,0,1,1,-1,0ZM-1,0H1M0,-1V1","M-0.9,-0.9H0.9V0.9H-0.9Z","M-0.35,-1H0.35V-0.35H1V0.35H0.35V1H-0.35V0.35H-1V-0.35H-0.35Z"]}},
"stroke":{"field":"site","type":"nominal","legend":null,"scale":{"domain":["SW25-1","SW25-12","SW25-13A","SW25-13B","SW25-16","SW25-2","SW25-9B","SW25-9A","SW25-11B","SW25-11C","SW25-14A","SW25-14B","SW25-15A","SW25-15B","SW25-11A"],"range":["#0000ff","#0000ff","#0000ff","#0000ff","#990000","#990000","#ff0000","#ff0000","#ff0000","#ff0000","#ff0000","#ff0000","#c00000","#ff0000","#ff0000"]}},
"fill":{"field":"site","type":"nominal","legend":null,"scale":{"domain":["SW25-1","SW25-12","SW25-13A","SW25-13B","SW25-16","SW25-2","SW25-9B","SW25-9A","SW25-11B","SW25-11C","SW25-14A","SW25-14B","SW25-15A","SW25-15B","SW25-11A"],"range":["#000000","transparent","transparent","transparent","transparent","#990000","transparent","transparent","transparent","#ff0000","transparent","transparent","transparent","#ffffff","#ffffff"]}}}},
{"data":{"name":"legendDownA"},"mark":{"type":"point","size":625,"strokeWidth":2.2,"opacity":1},"encoding":{"x":{"datum":3,"type":"quantitative","scale":{"domain":[0.328,5.72],"nice":false,"zero":false},"axis":null},"y":{"field":"order","type":"quantitative","scale":{"domain":[-1.395,8.545],"nice":false,"zero":false,"reverse":true},"axis":null},
"shape":{"field":"site","type":"nominal","legend":null,"scale":{"domain":["SW25-1","SW25-12","SW25-13A","SW25-13B","SW25-16","SW25-2","SW25-9B","SW25-9A","SW25-11B","SW25-11C","SW25-14A","SW25-14B","SW25-15A","SW25-15B","SW25-11A"],"range":["circle","M0,-0.85L1,0.85L-1,0.85Z","M-1,0H1M0,-1V1M-0.75,-0.75L0.75,0.75M-0.75,0.75L0.75,-0.75","M0,-1L1,0L0,1L-1,0Z","M-0.9,-0.9H0.9V0.9H-0.9ZM-0.9,-0.9L0.9,0.9M-0.9,0.9L0.9,-0.9","M-1,-0.08H-0.08V-1H0.08V-0.08H1V0.08H0.08V1H-0.08V0.08H-1Z","M0,-1L1,0L0,1L-1,0Z","M-0.9,-0.9H0.9V0.9H-0.9Z","M0,-1L0.289,-0.5L0.866,-0.5L0.577,0L0.866,0.5L0.289,0.5L0,1L-0.289,0.5L-0.866,0.5L-0.577,0L-0.866,-0.5L-0.289,-0.5Z","circle","M-0.85,-1L1,0L-0.85,1Z","M-0.35,-1H0.35V-0.35H1V0.35H0.35V1H-0.35V0.35H-1V-0.35H-0.35Z","M-1,0A1,1,0,1,1,1,0A1,1,0,1,1,-1,0ZM-1,0H1M0,-1V1","M-0.9,-0.9H0.9V0.9H-0.9Z","M-0.35,-1H0.35V-0.35H1V0.35H0.35V1H-0.35V0.35H-1V-0.35H-0.35Z"]}},
"stroke":{"field":"site","type":"nominal","legend":null,"scale":{"domain":["SW25-1","SW25-12","SW25-13A","SW25-13B","SW25-16","SW25-2","SW25-9B","SW25-9A","SW25-11B","SW25-11C","SW25-14A","SW25-14B","SW25-15A","SW25-15B","SW25-11A"],"range":["#0000ff","#0000ff","#0000ff","#0000ff","#990000","#990000","#ff0000","#ff0000","#ff0000","#ff0000","#ff0000","#ff0000","#c00000","#ff0000","#ff0000"]}},
"fill":{"field":"site","type":"nominal","legend":null,"scale":{"domain":["SW25-1","SW25-12","SW25-13A","SW25-13B","SW25-16","SW25-2","SW25-9B","SW25-9A","SW25-11B","SW25-11C","SW25-14A","SW25-14B","SW25-15A","SW25-15B","SW25-11A"],"range":["#000000","transparent","transparent","transparent","transparent","#990000","transparent","transparent","transparent","#ff0000","transparent","transparent","transparent","#ffffff","#ffffff"]}}}},
{"data":{"name":"legendDownA"},"mark":{"type":"text","fontSize":20,"align":"left","baseline":"middle","color":"#000000"},"encoding":{"x":{"datum":3.32,"type":"quantitative","scale":{"domain":[0.328,5.72],"nice":false,"zero":false},"axis":null},"y":{"field":"order","type":"quantitative","scale":{"domain":[-1.395,8.545],"nice":false,"zero":false,"reverse":true},"axis":null},"text":{"field":"site"}}}
]
},
{
"width":375,"height":332,
"layer":[
{"data":{"values":[{}]},"mark":{"type":"text","fontSize":26,"align":"center","baseline":"middle","color":"#000000"},"encoding":{"x":{"datum":2.9,"type":"quantitative","scale":{"domain":[0.155,5.437],"nice":false,"zero":false},"axis":null},"y":{"datum":-1.434,"type":"quantitative","scale":{"domain":[-1.881,7.406],"nice":false,"zero":false,"reverse":true},"axis":null},"text":{"value":"Date"}}},
{"data":{"values":[{}]},"mark":{"type":"rect","fill":"#ffffff","stroke":"#444444","strokeWidth":1.5},"encoding":{"x":{"datum":0.465,"type":"quantitative","scale":{"domain":[0.155,5.437],"nice":false,"zero":false},"axis":null},"x2":{"datum":5.296},"y":{"datum":-0.734,"type":"quantitative","scale":{"domain":[-1.881,7.406],"nice":false,"zero":false,"reverse":true},"axis":null},"y2":{"datum":5.81}}},
{"data":{"values":[{}]},"mark":{"type":"text","fontSize":22,"align":"center","baseline":"middle","color":"#000000"},"encoding":{"x":{"datum":2.88,"type":"quantitative","scale":{"domain":[0.155,5.437],"nice":false,"zero":false},"axis":null},"y":{"datum":0.1,"type":"quantitative","scale":{"domain":[-1.881,7.406],"nice":false,"zero":false,"reverse":true},"axis":null},"text":{"value":"Down stream"}}},
{"data":{"name":"legendDownB"},"mark":{"type":"rule","strokeWidth":1.5},"encoding":{"x":{"datum":1,"type":"quantitative","scale":{"domain":[0.155,5.437],"nice":false,"zero":false},"axis":null},"x2":{"datum":3},"y":{"field":"order","type":"quantitative","scale":{"domain":[-1.881,7.406],"nice":false,"zero":false,"reverse":true},"axis":null},"color":{"field":"site","type":"nominal","legend":null,"scale":{"domain":["SW25-1","SW25-12","SW25-13A","SW25-13B","SW25-16","SW25-2","SW25-9B","SW25-9A","SW25-11B","SW25-11C","SW25-14A","SW25-14B","SW25-15A","SW25-15B","SW25-11A"],"range":["#0000ff","#0000ff","#0000ff","#0000ff","#ff0000","#ff0000","#ff0000","#ff0000","#ff0000","#ff0000","#ff0000","#ff0000","#ff0000","#ff0000","#ff0000"]}}}},
{"data":{"name":"legendDownB"},"mark":{"type":"point","size":800,"strokeWidth":2.5,"opacity":1},"encoding":{"x":{"datum":1,"type":"quantitative","scale":{"domain":[0.155,5.437],"nice":false,"zero":false},"axis":null},"y":{"field":"order","type":"quantitative","scale":{"domain":[-1.881,7.406],"nice":false,"zero":false,"reverse":true},"axis":null},
"shape":{"field":"site","type":"nominal","legend":null,"scale":{"domain":["SW25-1","SW25-12","SW25-13A","SW25-13B","SW25-16","SW25-2","SW25-9B","SW25-9A","SW25-11B","SW25-11C","SW25-14A","SW25-14B","SW25-15A","SW25-15B","SW25-11A"],"range":["circle","M0,-0.85L1,0.85L-1,0.85Z","M-1,0H1M0,-1V1M-0.75,-0.75L0.75,0.75M-0.75,0.75L0.75,-0.75","M0,-1L1,0L0,1L-1,0Z","M-0.9,-0.9H0.9V0.9H-0.9ZM-0.9,-0.9L0.9,0.9M-0.9,0.9L0.9,-0.9","M-1,-0.08H-0.08V-1H0.08V-0.08H1V0.08H0.08V1H-0.08V0.08H-1Z","M0,-1L1,0L0,1L-1,0Z","M-0.9,-0.9H0.9V0.9H-0.9Z","M0,-1L0.289,-0.5L0.866,-0.5L0.577,0L0.866,0.5L0.289,0.5L0,1L-0.289,0.5L-0.866,0.5L-0.577,0L-0.866,-0.5L-0.289,-0.5Z","circle","M-0.85,-1L1,0L-0.85,1Z","M-0.35,-1H0.35V-0.35H1V0.35H0.35V1H-0.35V0.35H-1V-0.35H-0.35Z","M-1,0A1,1,0,1,1,1,0A1,1,0,1,1,-1,0ZM-1,0H1M0,-1V1","M-0.9,-0.9H0.9V0.9H-0.9Z","M-0.35,-1H0.35V-0.35H1V0.35H0.35V1H-0.35V0.35H-1V-0.35H-0.35Z"]}},
"stroke":{"field":"site","type":"nominal","legend":null,"scale":{"domain":["SW25-1","SW25-12","SW25-13A","SW25-13B","SW25-16","SW25-2","SW25-9B","SW25-9A","SW25-11B","SW25-11C","SW25-14A","SW25-14B","SW25-15A","SW25-15B","SW25-11A"],"range":["#0000ff","#0000ff","#0000ff","#0000ff","#990000","#990000","#ff0000","#ff0000","#ff0000","#ff0000","#ff0000","#ff0000","#c00000","#ff0000","#ff0000"]}},
"fill":{"field":"site","type":"nominal","legend":null,"scale":{"domain":["SW25-1","SW25-12","SW25-13A","SW25-13B","SW25-16","SW25-2","SW25-9B","SW25-9A","SW25-11B","SW25-11C","SW25-14A","SW25-14B","SW25-15A","SW25-15B","SW25-11A"],"range":["#000000","transparent","transparent","transparent","transparent","#990000","transparent","transparent","transparent","#ff0000","transparent","transparent","transparent","#ffffff","#ffffff"]}}}},
{"data":{"name":"legendDownB"},"mark":{"type":"point","size":800,"strokeWidth":2.5,"opacity":1},"encoding":{"x":{"datum":2,"type":"quantitative","scale":{"domain":[0.155,5.437],"nice":false,"zero":false},"axis":null},"y":{"field":"order","type":"quantitative","scale":{"domain":[-1.881,7.406],"nice":false,"zero":false,"reverse":true},"axis":null},
"shape":{"field":"site","type":"nominal","legend":null,"scale":{"domain":["SW25-1","SW25-12","SW25-13A","SW25-13B","SW25-16","SW25-2","SW25-9B","SW25-9A","SW25-11B","SW25-11C","SW25-14A","SW25-14B","SW25-15A","SW25-15B","SW25-11A"],"range":["circle","M0,-0.85L1,0.85L-1,0.85Z","M-1,0H1M0,-1V1M-0.75,-0.75L0.75,0.75M-0.75,0.75L0.75,-0.75","M0,-1L1,0L0,1L-1,0Z","M-0.9,-0.9H0.9V0.9H-0.9ZM-0.9,-0.9L0.9,0.9M-0.9,0.9L0.9,-0.9","M-1,-0.08H-0.08V-1H0.08V-0.08H1V0.08H0.08V1H-0.08V0.08H-1Z","M0,-1L1,0L0,1L-1,0Z","M-0.9,-0.9H0.9V0.9H-0.9Z","M0,-1L0.289,-0.5L0.866,-0.5L0.577,0L0.866,0.5L0.289,0.5L0,1L-0.289,0.5L-0.866,0.5L-0.577,0L-0.866,-0.5L-0.289,-0.5Z","circle","M-0.85,-1L1,0L-0.85,1Z","M-0.35,-1H0.35V-0.35H1V0.35H0.35V1H-0.35V0.35H-1V-0.35H-0.35Z","M-1,0A1,1,0,1,1,1,0A1,1,0,1,1,-1,0ZM-1,0H1M0,-1V1","M-0.9,-0.9H0.9V0.9H-0.9Z","M-0.35,-1H0.35V-0.35H1V0.35H0.35V1H-0.35V0.35H-1V-0.35H-0.35Z"]}},
"stroke":{"field":"site","type":"nominal","legend":null,"scale":{"domain":["SW25-1","SW25-12","SW25-13A","SW25-13B","SW25-16","SW25-2","SW25-9B","SW25-9A","SW25-11B","SW25-11C","SW25-14A","SW25-14B","SW25-15A","SW25-15B","SW25-11A"],"range":["#0000ff","#0000ff","#0000ff","#0000ff","#990000","#990000","#ff0000","#ff0000","#ff0000","#ff0000","#ff0000","#ff0000","#c00000","#ff0000","#ff0000"]}},
"fill":{"field":"site","type":"nominal","legend":null,"scale":{"domain":["SW25-1","SW25-12","SW25-13A","SW25-13B","SW25-16","SW25-2","SW25-9B","SW25-9A","SW25-11B","SW25-11C","SW25-14A","SW25-14B","SW25-15A","SW25-15B","SW25-11A"],"range":["#000000","transparent","transparent","transparent","transparent","#990000","transparent","transparent","transparent","#ff0000","transparent","transparent","transparent","#ffffff","#ffffff"]}}}},
{"data":{"name":"legendDownB"},"mark":{"type":"point","size":800,"strokeWidth":2.5,"opacity":1},"encoding":{"x":{"datum":3,"type":"quantitative","scale":{"domain":[0.155,5.437],"nice":false,"zero":false},"axis":null},"y":{"field":"order","type":"quantitative","scale":{"domain":[-1.881,7.406],"nice":false,"zero":false,"reverse":true},"axis":null},
"shape":{"field":"site","type":"nominal","legend":null,"scale":{"domain":["SW25-1","SW25-12","SW25-13A","SW25-13B","SW25-16","SW25-2","SW25-9B","SW25-9A","SW25-11B","SW25-11C","SW25-14A","SW25-14B","SW25-15A","SW25-15B","SW25-11A"],"range":["circle","M0,-0.85L1,0.85L-1,0.85Z","M-1,0H1M0,-1V1M-0.75,-0.75L0.75,0.75M-0.75,0.75L0.75,-0.75","M0,-1L1,0L0,1L-1,0Z","M-0.9,-0.9H0.9V0.9H-0.9ZM-0.9,-0.9L0.9,0.9M-0.9,0.9L0.9,-0.9","M-1,-0.08H-0.08V-1H0.08V-0.08H1V0.08H0.08V1H-0.08V0.08H-1Z","M0,-1L1,0L0,1L-1,0Z","M-0.9,-0.9H0.9V0.9H-0.9Z","M0,-1L0.289,-0.5L0.866,-0.5L0.577,0L0.866,0.5L0.289,0.5L0,1L-0.289,0.5L-0.866,0.5L-0.577,0L-0.866,-0.5L-0.289,-0.5Z","circle","M-0.85,-1L1,0L-0.85,1Z","M-0.35,-1H0.35V-0.35H1V0.35H0.35V1H-0.35V0.35H-1V-0.35H-0.35Z","M-1,0A1,1,0,1,1,1,0A1,1,0,1,1,-1,0ZM-1,0H1M0,-1V1","M-0.9,-0.9H0.9V0.9H-0.9Z","M-0.35,-1H0.35V-0.35H1V0.35H0.35V1H-0.35V0.35H-1V-0.35H-0.35Z"]}},
"stroke":{"field":"site","type":"nominal","legend":null,"scale":{"domain":["SW25-1","SW25-12","SW25-13A","SW25-13B","SW25-16","SW25-2","SW25-9B","SW25-9A","SW25-11B","SW25-11C","SW25-14A","SW25-14B","SW25-15A","SW25-15B","SW25-11A"],"range":["#0000ff","#0000ff","#0000ff","#0000ff","#990000","#990000","#ff0000","#ff0000","#ff0000","#ff0000","#ff0000","#ff0000","#c00000","#ff0000","#ff0000"]}},
"fill":{"field":"site","type":"nominal","legend":null,"scale":{"domain":["SW25-1","SW25-12","SW25-13A","SW25-13B","SW25-16","SW25-2","SW25-9B","SW25-9A","SW25-11B","SW25-11C","SW25-14A","SW25-14B","SW25-15A","SW25-15B","SW25-11A"],"range":["#000000","transparent","transparent","transparent","transparent","#990000","transparent","transparent","transparent","#ff0000","transparent","transparent","transparent","#ffffff","#ffffff"]}}}},
{"data":{"name":"legendDownB"},"transform":[{"filter":"datum.site === 'SW25-15B'"}],"mark":{"type":"point","shape":"M0.05,-0.85H0.85V0.85H0.05Z","size":800,"filled":true,"color":"#000000","opacity":1},"encoding":{"x":{"datum":1,"type":"quantitative","scale":{"domain":[0.155,5.437],"nice":false,"zero":false},"axis":null},"y":{"field":"order","type":"quantitative","scale":{"domain":[-1.881,7.406],"nice":false,"zero":false,"reverse":true},"axis":null}}},
{"data":{"name":"legendDownB"},"transform":[{"filter":"datum.site === 'SW25-15B'"}],"mark":{"type":"point","shape":"M0.05,-0.85H0.85V0.85H0.05Z","size":800,"filled":true,"color":"#000000","opacity":1},"encoding":{"x":{"datum":2,"type":"quantitative","scale":{"domain":[0.155,5.437],"nice":false,"zero":false},"axis":null},"y":{"field":"order","type":"quantitative","scale":{"domain":[-1.881,7.406],"nice":false,"zero":false,"reverse":true},"axis":null}}},
{"data":{"name":"legendDownB"},"transform":[{"filter":"datum.site === 'SW25-15B'"}],"mark":{"type":"point","shape":"M0.05,-0.85H0.85V0.85H0.05Z","size":800,"filled":true,"color":"#000000","opacity":1},"encoding":{"x":{"datum":3,"type":"quantitative","scale":{"domain":[0.155,5.437],"nice":false,"zero":false},"axis":null},"y":{"field":"order","type":"quantitative","scale":{"domain":[-1.881,7.406],"nice":false,"zero":false,"reverse":true},"axis":null}}},
{"data":{"name":"legendDownB"},"transform":[{"filter":"datum.site === 'SW25-11A'"}],"mark":{"type":"point","shape":"M-0.35,-0.35H0.35V0.35H-0.35Z","size":800,"filled":true,"color":"#ff0000","opacity":1},"encoding":{"x":{"datum":1,"type":"quantitative","scale":{"domain":[0.155,5.437],"nice":false,"zero":false},"axis":null},"y":{"field":"order","type":"quantitative","scale":{"domain":[-1.881,7.406],"nice":false,"zero":false,"reverse":true},"axis":null}}},
{"data":{"name":"legendDownB"},"transform":[{"filter":"datum.site === 'SW25-11A'"}],"mark":{"type":"point","shape":"M-0.35,-0.35H0.35V0.35H-0.35Z","size":800,"filled":true,"color":"#ff0000","opacity":1},"encoding":{"x":{"datum":2,"type":"quantitative","scale":{"domain":[0.155,5.437],"nice":false,"zero":false},"axis":null},"y":{"field":"order","type":"quantitative","scale":{"domain":[-1.881,7.406],"nice":false,"zero":false,"reverse":true},"axis":null}}},
{"data":{"name":"legendDownB"},"transform":[{"filter":"datum.site === 'SW25-11A'"}],"mark":{"type":"point","shape":"M-0.35,-0.35H0.35V0.35H-0.35Z","size":800,"filled":true,"color":"#ff0000","opacity":1},"encoding":{"x":{"datum":3,"type":"quantitative","scale":{"domain":[0.155,5.437],"nice":false,"zero":false},"axis":null},"y":{"field":"order","type":"quantitative","scale":{"domain":[-1.881,7.406],"nice":false,"zero":false,"reverse":true},"axis":null}}},
{"data":{"name":"legendDownB"},"mark":{"type":"text","fontSize":22,"align":"left","baseline":"middle","color":"#000000"},"encoding":{"x":{"datum":3.324,"type":"quantitative","scale":{"domain":[0.155,5.437],"nice":false,"zero":false},"axis":null},"y":{"field":"order","type":"quantitative","scale":{"domain":[-1.881,7.406],"nice":false,"zero":false,"reverse":true},"axis":null},"text":{"field":"site"}}}
]
},
{
"width":727,"height":332,
"layer":[
{"data":{"values":[{}]},"mark":{"type":"rule","color":"#000000","strokeWidth":3},"encoding":{"x":{"datum":1.93,"type":"quantitative","scale":{"domain":[0,100],"nice":false,"zero":false},"axis":null},"x2":{"datum":100},"y":{"datum":22.9,"type":"quantitative","scale":{"domain":[1.19,100],"nice":false,"zero":false,"reverse":true},"axis":null}}},
{"data":{"values":[{}]},"mark":{"type":"rule","color":"#000000","strokeWidth":3},"encoding":{"x":{"datum":1.93,"type":"quantitative","scale":{"domain":[0,100],"nice":false,"zero":false},"axis":null},"y":{"datum":22.9,"type":"quantitative","scale":{"domain":[1.19,100],"nice":false,"zero":false,"reverse":true},"axis":null},"y2":{"datum":100}}},
{"data":{"values":[{}]},"mark":{"type":"rule","color":"#000000","strokeWidth":3},"encoding":{"x":{"datum":99.7,"type":"quantitative","scale":{"domain":[0,100],"nice":false,"zero":false},"axis":null},"y":{"datum":22.9,"type":"quantitative","scale":{"domain":[1.19,100],"nice":false,"zero":false,"reverse":true},"axis":null},"y2":{"datum":100}}},
{"data":{"values":[{}]},"mark":{"type":"rule","color":"#000000","strokeWidth":3},"encoding":{"x":{"datum":38.5,"type":"quantitative","scale":{"domain":[0,100],"nice":false,"zero":false},"axis":null},"y":{"datum":22.9,"type":"quantitative","scale":{"domain":[1.19,100],"nice":false,"zero":false,"reverse":true},"axis":null},"y2":{"datum":61.9}}},
{"data":{"values":[{}]},"mark":{"type":"rule","color":"#000000","strokeWidth":3},"encoding":{"x":{"datum":1.93,"type":"quantitative","scale":{"domain":[0,100],"nice":false,"zero":false},"axis":null},"x2":{"datum":100},"y":{"datum":61.9,"type":"quantitative","scale":{"domain":[1.19,100],"nice":false,"zero":false,"reverse":true},"axis":null}}},
{"data":{"values":[{}]},"mark":{"type":"rule","color":"#000000","strokeWidth":3},"encoding":{"x":{"datum":1.93,"type":"quantitative","scale":{"domain":[0,100],"nice":false,"zero":false},"axis":null},"x2":{"datum":100},"y":{"datum":72.3,"type":"quantitative","scale":{"domain":[1.19,100],"nice":false,"zero":false,"reverse":true},"axis":null}}},
{"data":{"values":[{}]},"mark":{"type":"rule","color":"#000000","strokeWidth":3},"encoding":{"x":{"datum":1.93,"type":"quantitative","scale":{"domain":[0,100],"nice":false,"zero":false},"axis":null},"x2":{"datum":100},"y":{"datum":90.8,"type":"quantitative","scale":{"domain":[1.19,100],"nice":false,"zero":false,"reverse":true},"axis":null}}},
{"data":{"values":[{}]},"mark":{"type":"rule","color":"#000000","strokeWidth":3},"encoding":{"x":{"datum":35.2,"type":"quantitative","scale":{"domain":[0,100],"nice":false,"zero":false},"axis":null},"y":{"datum":90.8,"type":"quantitative","scale":{"domain":[1.19,100],"nice":false,"zero":false,"reverse":true},"axis":null},"y2":{"datum":100}}},
{"data":{"values":[{}]},"mark":{"type":"rule","color":"#000000","strokeWidth":3},"encoding":{"x":{"datum":78.8,"type":"quantitative","scale":{"domain":[0,100],"nice":false,"zero":false},"axis":null},"y":{"datum":90.8,"type":"quantitative","scale":{"domain":[1.19,100],"nice":false,"zero":false,"reverse":true},"axis":null},"y2":{"datum":100}}},
{"data":{"values":[{}]},"mark":{"type":"text","font":"Liberation Sans","fontWeight":"bold","fontSize":26,"align":"left","baseline":"middle","color":"#ff0000"},"encoding":{"x":{"datum":8.67,"type":"quantitative","scale":{"domain":[0,100],"nice":false,"zero":false},"axis":null},"y":{"datum":7.44,"type":"quantitative","scale":{"domain":[1.19,100],"nice":false,"zero":false,"reverse":true},"axis":null},"text":{"value":"Cd CCME Criteria"}}},
{"data":{"values":[{}]},"mark":{"type":"text","font":"Liberation Sans","fontWeight":"bold","fontSize":26,"align":"left","baseline":"middle","color":"#ff0000"},"encoding":{"x":{"datum":8.67,"type":"quantitative","scale":{"domain":[0,100],"nice":false,"zero":false},"axis":null},"y":{"datum":15.8,"type":"quantitative","scale":{"domain":[1.19,100],"nice":false,"zero":false,"reverse":true},"axis":null},"text":{"value":"0.001 mg/L short term"}}},
{"data":{"values":[{}]},"mark":{"type":"text","font":"Liberation Sans","fontWeight":"bold","fontSize":26,"align":"left","baseline":"middle","color":"#ff0000"},"encoding":{"x":{"datum":60.1,"type":"quantitative","scale":{"domain":[0,100],"nice":false,"zero":false},"axis":null},"y":{"datum":8.0,"type":"quantitative","scale":{"domain":[1.19,100],"nice":false,"zero":false,"reverse":true},"axis":null},"text":{"value":"Cd CCME Criteria"}}},
{"data":{"values":[{}]},"mark":{"type":"text","font":"Liberation Sans","fontWeight":"bold","fontSize":26,"align":"left","baseline":"middle","color":"#ff0000"},"encoding":{"x":{"datum":60.1,"type":"quantitative","scale":{"domain":[0,100],"nice":false,"zero":false},"axis":null},"y":{"datum":17.0,"type":"quantitative","scale":{"domain":[1.19,100],"nice":false,"zero":false,"reverse":true},"axis":null},"text":{"value":"0.00009 Long Term"}}},
{"data":{"values":[{}]},"mark":{"type":"text","font":"Liberation Sans","fontSize":39,"align":"left","baseline":"middle","color":"#000000"},"encoding":{"x":{"datum":43.3,"type":"quantitative","scale":{"domain":[0,100],"nice":false,"zero":false},"axis":null},"y":{"datum":37.2,"type":"quantitative","scale":{"domain":[1.19,100],"nice":false,"zero":false,"reverse":true},"axis":null},"text":{"value":"City Of Winnipeg"}}},
{"data":{"values":[{}]},"mark":{"type":"text","font":"Liberation Sans","fontSize":39,"align":"left","baseline":"middle","color":"#000000"},"encoding":{"x":{"datum":43.3,"type":"quantitative","scale":{"domain":[0,100],"nice":false,"zero":false},"axis":null},"y":{"datum":50.3,"type":"quantitative","scale":{"domain":[1.19,100],"nice":false,"zero":false,"reverse":true},"axis":null},"text":{"value":"Solid Waste Services"}}},
{"data":{"values":[{}]},"mark":{"type":"point","shape":"M-1,-0.03Q-0.1,-0.3,1,0.13","size":19881,"stroke":"#1f2f6e","strokeWidth":3.5,"fill":"transparent","opacity":1},"encoding":{"x":{"datum":19.5,"type":"quantitative","scale":{"domain":[0,100],"nice":false,"zero":false},"axis":null},"y":{"datum":40.2,"type":"quantitative","scale":{"domain":[1.19,100],"nice":false,"zero":false,"reverse":true},"axis":null}}},
{"data":{"values":[{}]},"mark":{"type":"point","shape":"M-1,-0.1A1,0.8,0,0,0,1,-0.1A1,0.45,0,0,1,-1,-0.1Z","size":484,"filled":true,"color":"#f0a818","opacity":1},"encoding":{"x":{"datum":20.1,"type":"quantitative","scale":{"domain":[0,100],"nice":false,"zero":false},"axis":null},"y":{"datum":32.1,"type":"quantitative","scale":{"domain":[1.19,100],"nice":false,"zero":false,"reverse":true},"axis":null}}},
{"data":{"values":[{}]},"mark":{"type":"point","shape":"M-0.9,0.2A0.95,0.7,0,0,1,0.95,-0.1","size":484,"stroke":"#1f2f6e","strokeWidth":2,"fill":"transparent","opacity":1},"encoding":{"x":{"datum":20.4,"type":"quantitative","scale":{"domain":[0,100],"nice":false,"zero":false},"axis":null},"y":{"datum":31.0,"type":"quantitative","scale":{"domain":[1.19,100],"nice":false,"zero":false,"reverse":true},"axis":null}}},
{"data":{"values":[{}]},"mark":{"type":"point","shape":"circle","size":40,"filled":true,"color":"#e41b23","opacity":1},"encoding":{"x":{"datum":20.9,"type":"quantitative","scale":{"domain":[0,100],"nice":false,"zero":false},"axis":null},"y":{"datum":30.7,"type":"quantitative","scale":{"domain":[1.19,100],"nice":false,"zero":false,"reverse":true},"axis":null}}},
{"data":{"values":[{}]},"mark":{"type":"text","font":"Liberation Serif","fontSize":46,"align":"center","baseline":"middle","color":"#1f2f6e"},"encoding":{"x":{"datum":19.8,"type":"quantitative","scale":{"domain":[0,100],"nice":false,"zero":false},"axis":null},"y":{"datum":46.7,"type":"quantitative","scale":{"domain":[1.19,100],"nice":false,"zero":false,"reverse":true},"axis":null},"text":{"value":"Winnipeg"}}},
{"data":{"values":[{}]},"mark":{"type":"text","font":"Liberation Serif","fontSize":17,"align":"center","baseline":"middle","color":"#5a6480"},"encoding":{"x":{"datum":20.8,"type":"quantitative","scale":{"domain":[0,100],"nice":false,"zero":false},"axis":null},"y":{"datum":56.0,"type":"quantitative","scale":{"domain":[1.19,100],"nice":false,"zero":false,"reverse":true},"axis":null},"text":{"value":"Water and Waste Department"}}},
{"data":{"values":[{}]},"mark":{"type":"text","font":"DejaVu Sans","fontWeight":"bold","fontSize":20,"align":"left","baseline":"middle","color":"#000000"},"encoding":{"x":{"datum":2.6,"type":"quantitative","scale":{"domain":[0,100],"nice":false,"zero":false},"axis":null},"y":{"datum":68.5,"type":"quantitative","scale":{"domain":[1.19,100],"nice":false,"zero":false,"reverse":true},"axis":null},"text":{"value":"BRADY ROAD RESOURCE MANAGEMENT FACILITY"}}},
{"data":{"values":[{}]},"mark":{"type":"text","font":"DejaVu Sans","fontWeight":"bold","fontSize":26,"align":"left","baseline":"middle","color":"#000000"},"encoding":{"x":{"datum":2.9,"type":"quantitative","scale":{"domain":[0,100],"nice":false,"zero":false},"axis":null},"y":{"datum":77.6,"type":"quantitative","scale":{"domain":[1.19,100],"nice":false,"zero":false,"reverse":true},"axis":null},"text":{"value":"Dissolved Cadmium"}}},
{"data":{"values":[{}]},"mark":{"type":"text","font":"DejaVu Sans","fontWeight":"bold","fontSize":26,"align":"left","baseline":"middle","color":"#000000"},"encoding":{"x":{"datum":2.9,"type":"quantitative","scale":{"domain":[0,100],"nice":false,"zero":false},"axis":null},"y":{"datum":85.9,"type":"quantitative","scale":{"domain":[1.19,100],"nice":false,"zero":false,"reverse":true},"axis":null},"text":{"value":"Surface Water"}}},
{"data":{"values":[{}]},"mark":{"type":"text","font":"DejaVu Sans","fontWeight":"bold","fontSize":27,"align":"left","baseline":"middle","color":"#000000"},"encoding":{"x":{"datum":4.8,"type":"quantitative","scale":{"domain":[0,100],"nice":false,"zero":false},"axis":null},"y":{"datum":96.1,"type":"quantitative","scale":{"domain":[1.19,100],"nice":false,"zero":false,"reverse":true},"axis":null},"text":{"value":"APRIL 2021"}}},
{"data":{"values":[{}]},"mark":{"type":"text","font":"DejaVu Sans","fontWeight":"bold","fontSize":27,"align":"left","baseline":"middle","color":"#000000"},"encoding":{"x":{"datum":45.4,"type":"quantitative","scale":{"domain":[0,100],"nice":false,"zero":false},"axis":null},"y":{"datum":96.7,"type":"quantitative","scale":{"domain":[1.19,100],"nice":false,"zero":false,"reverse":true},"axis":null},"text":{"value":"FIGURE 44"}}},
{"data":{"values":[{}]},"mark":{"type":"text","font":"DejaVu Sans","fontWeight":"bold","fontSize":27,"align":"left","baseline":"middle","color":"#000000"},"encoding":{"x":{"datum":81.2,"type":"quantitative","scale":{"domain":[0,100],"nice":false,"zero":false},"axis":null},"y":{"datum":95.8,"type":"quantitative","scale":{"domain":[1.19,100],"nice":false,"zero":false,"reverse":true},"axis":null},"text":{"value":"REV 0"}}}
]
}
]}
]
}
